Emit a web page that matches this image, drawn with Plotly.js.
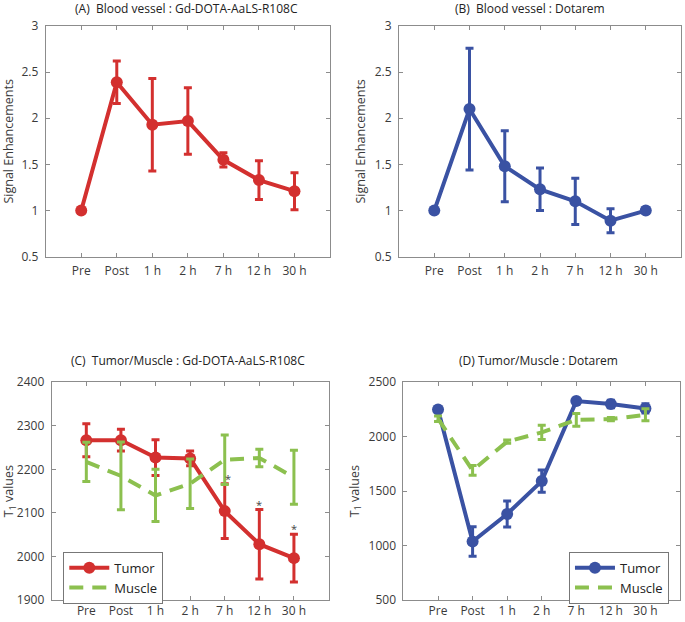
<!DOCTYPE html>
<html>
<head>
<meta charset="utf-8">
<script src="https://cdn.plot.ly/plotly-3.0.1.min.js"></script>
<style>html,body{margin:0;padding:0;background:#fff;}#chart{width:685px;height:622px;}</style>
</head>
<body>
<div id="chart"></div>
<script>
// ---- data ----
var categories = ['Pre', 'Post', '1 h', '2 h', '7 h', '12 h', '30 h'];

var bloodGd     = [1.00, 2.39, 1.93, 1.97, 1.55, 1.33, 1.21];
var bloodGdErr  = [0, 0.23, 0.50, 0.36, 0.077, 0.21, 0.20];

var bloodDot    = [1.00, 2.10, 1.48, 1.23, 1.10, 0.89, 1.00];
var bloodDotErr = [0, 0.66, 0.385, 0.23, 0.25, 0.13, 0.03];

var tumorGd     = [2267, 2267, 2227, 2225, 2104, 2028, 1996];
var tumorGdErr  = [38, 25, 41, 17, 63, 80, 55];
var muscleGd    = [2217, 2185, 2140, 2167, 2222, 2226, 2182];
var muscleGdErr = [45, 78, 60, 57, 57, 20, 62];

var tumorDot     = [2250, 1037, 1290, 1592, 2327, 2300, 2260];
var tumorDotErr  = [15, 136, 120, 103, 15, 35, 43];
var muscleDot    = [2165, 1690, 1955, 2040, 2155, 2162, 2201];
var muscleDotErr = [25, 45, 15, 65, 58, 15, 55];

var starCats = ['7 h', '12 h', '30 h'];
var starY    = [2178, 2119, 2063];

var titles = ['(A)  Blood vessel : Gd-DOTA-AaLS-R108C', '(B)  Blood vessel : Dotarem',
              '(C)  Tumor/Muscle : Gd-DOTA-AaLS-R108C', '(D) Tumor/Muscle : Dotarem'];

// ---- styling ----
var RED = '#d3302f', BLUE = '#3a52a3', GREEN = '#8cc04f';
var FONT = 'Open Sans, Noto Sans, sans-serif';
var AXC = '#8c8c8c', TXT = '#3a3a3a';

function tumorTrace(y, err, color, xa, ya, legendName, show) {
  return {
    type: 'scatter', mode: 'lines+markers', x: categories, y: y, name: 'Tumor',
    xaxis: xa, yaxis: ya, legend: legendName, showlegend: show,
    line: {color: color, width: 4},
    marker: {color: color, size: 12, symbol: 'circle'},
    error_y: {type: 'data', array: err, visible: true, color: color, thickness: 3, width: 4}
  };
}
function muscleTrace(y, err, xa, ya, legendName) {
  return {
    type: 'scatter', mode: 'lines', x: categories, y: y, name: 'Muscle',
    xaxis: xa, yaxis: ya, legend: legendName, showlegend: true,
    line: {color: GREEN, width: 4, dash: '14px,9px'},
    error_y: {type: 'data', array: err, visible: true, color: GREEN, thickness: 3, width: 4}
  };
}

var data = [
  tumorTrace(bloodGd, bloodGdErr, RED, 'x', 'y', 'legend', false),
  tumorTrace(bloodDot, bloodDotErr, BLUE, 'x2', 'y2', 'legend', false),
  tumorTrace(tumorGd, tumorGdErr, RED, 'x3', 'y3', 'legend', true),
  muscleTrace(muscleGd, muscleGdErr, 'x3', 'y3', 'legend'),
  tumorTrace(tumorDot, tumorDotErr, BLUE, 'x4', 'y4', 'legend2', true),
  muscleTrace(muscleDot, muscleDotErr, 'x4', 'y4', 'legend2')
];

function xax(dom, anchor, standoff) {
  return {domain: dom, anchor: anchor, type: 'category', range: [-1, 7],
    showline: true, linecolor: AXC, linewidth: 1, mirror: 'ticks',
    ticks: 'inside', ticklen: 4, tickcolor: AXC, showgrid: false, zeroline: false,
    ticklabelstandoff: standoff,
    tickfont: {family: FONT, size: 12, color: TXT}, fixedrange: true};
}
function yax(dom, anchor, range, dtick, title, standoff) {
  return {domain: dom, anchor: anchor, range: range, dtick: dtick, tick0: range[0],
    showline: true, linecolor: AXC, linewidth: 1, mirror: 'ticks',
    ticks: 'inside', ticklen: 4, tickcolor: AXC, showgrid: false, zeroline: false,
    ticklabelstandoff: 4,
    tickfont: {family: FONT, size: 12, color: TXT},
    title: {text: title, font: {family: FONT, size: 12.5, color: TXT}, standoff: standoff},
    fixedrange: true};
}

var yTop = [0.5873, 0.9582], yBot = [0.0355, 0.3854];

var annotations = [];
var titlePos = [[187, 9], [530, 9], [188, 360], [538, 360]];
for (var i = 0; i < 4; i++) {
  annotations.push({text: titles[i], xref: 'paper', yref: 'paper',
    x: titlePos[i][0] / 685, y: 1 - titlePos[i][1] / 622, xanchor: 'center', yanchor: 'middle',
    showarrow: false, font: {family: FONT, size: 12, color: '#222'}});
}
for (var j = 0; j < starCats.length; j++) {
  annotations.push({text: '*', xref: 'x3', yref: 'y3', x: starCats[j], y: starY[j],
    xshift: j === 0 ? 3 : 0, showarrow: false, font: {family: FONT, size: 11, color: '#444'}});
}

var legendStyle = {bgcolor: '#fff', bordercolor: '#777', borderwidth: 1,
  font: {family: FONT, size: 13, color: '#222'}, yanchor: 'top',
  tracegroupgap: 0, itemwidth: 40};

var layout = {
  width: 685, height: 622, margin: {l: 0, r: 0, t: 0, b: 0},
  paper_bgcolor: '#fff', plot_bgcolor: '#fff', showlegend: true,
  xaxis:  xax([0.0667, 0.4818], 'y', 3),
  yaxis:  yax(yTop, 'x', [0.5, 3], 0.5, 'Signal Enhancements', 6),
  xaxis2: xax([0.5825, 0.9942], 'y2', 3),
  yaxis2: yax(yTop, 'x2', [0.5, 3], 0.5, 'Signal Enhancements', 6),
  xaxis3: xax([0.0755, 0.4796], 'y3', 0),
  yaxis3: yax(yBot, 'x3', [1900, 2400], 100, 'T<sub>1</sub> values', 6),
  xaxis4: xax([0.589, 0.9927], 'y4', 0),
  yaxis4: yax(yBot, 'x4', [500, 2500], 500, 'T<sub>1</sub> values', 6),
  legend: Object.assign({}, legendStyle, {x: 0.0924, xanchor: 'left', y: 0.113}),
  legend2: Object.assign({}, legendStyle, {x: 0.9766, xanchor: 'right', y: 0.113}),
  annotations: annotations
};

Plotly.newPlot('chart', data, layout, {staticPlot: true, displayModeBar: false});
</script>
</body>
</html>
